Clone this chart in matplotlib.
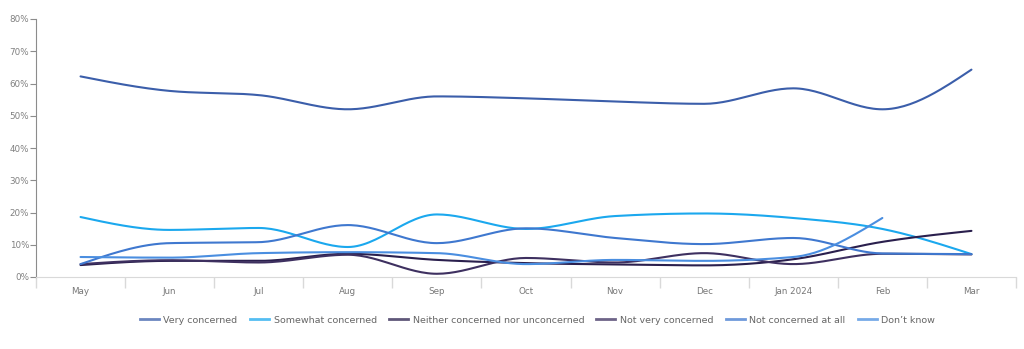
import numpy as np
import matplotlib.pyplot as plt
from matplotlib.lines import Line2D

months = ['May', 'Jun', 'Jul', 'Aug', 'Sep', 'Oct', 'Nov', 'Dec', 'Jan 2024', 'Feb', 'Mar']

very_concerned = [62.2, 57.7, 56.4, 52.0, 56.0, 55.4, 54.4, 53.7, 58.5, 52.0, 64.3]
somewhat_concerned = [18.6, 14.6, 15.2, 9.3, 19.4, 14.9, 18.9, 19.7, 18.3, 14.9, 7.1]
neither = [3.7, 5.0, 5.0, 7.2, 5.3, 4.3, 3.9, 3.6, 5.5, 10.9, 14.3]
not_very = [4.0, 5.2, 4.5, 6.9, 1.0, 5.9, 4.5, 7.4, 4.0, 7.2, 7.0]
not_at_all = [4.0, 10.5, 10.8, 16.1, 10.5, 15.1, 12.1, 10.2, 12.1, 7.3, 7.1]
dont_know = [6.2, 6.0, 7.4, 7.7, 7.4, 4.0, 5.3, 5.0, 6.2, 18.3]

series = [
    ('Very concerned', very_concerned, '#3b5eaa'),
    ('Somewhat concerned', somewhat_concerned, '#1ba8ee'),
    ('Neither concerned nor unconcerned', neither, '#2a1f4d'),
    ('Not very concerned', not_very, '#3e3060'),
    ('Not concerned at all', not_at_all, '#3f78cf'),
    ("Don\u2019t know", dont_know, '#4a8ee0'),
]


def monotone(x, y, n=30):
    # d3 curveMonotoneX style smoothing
    x = np.asarray(x, float)
    y = np.asarray(y, float)
    m = len(x)
    h = np.diff(x)
    s = np.diff(y) / h
    t = np.zeros(m)
    for i in range(1, m - 1):
        p = (s[i - 1] * h[i] + s[i] * h[i - 1]) / (h[i - 1] + h[i])
        t[i] = (np.sign(s[i - 1]) + np.sign(s[i])) * min(abs(s[i - 1]), abs(s[i]), 0.5 * abs(p))
    if m > 2:
        t[0] = (3 * s[0] - t[1]) / 2
        t[-1] = (3 * s[-1] - t[-2]) / 2
    else:
        t[:] = s[0]
    xs, ys = [], []
    u = np.linspace(0, 1, n)
    for i in range(m - 1):
        dx = h[i] / 3
        p0 = (x[i], y[i])
        p1 = (x[i] + dx, y[i] + dx * t[i])
        p2 = (x[i + 1] - dx, y[i + 1] - dx * t[i + 1])
        p3 = (x[i + 1], y[i + 1])
        b = [(1 - u) ** 3, 3 * (1 - u) ** 2 * u, 3 * (1 - u) * u ** 2, u ** 3]
        xs.append(b[0] * p0[0] + b[1] * p1[0] + b[2] * p2[0] + b[3] * p3[0])
        ys.append(b[0] * p0[1] + b[1] * p1[1] + b[2] * p2[1] + b[3] * p3[1])
    return np.concatenate(xs), np.concatenate(ys)


fig = plt.figure(figsize=(10.24, 3.49), dpi=100)
ax = fig.add_axes([36 / 1024, 1 - 277 / 349, 980 / 1024, 258 / 349])

for name, vals, col in series:
    xs, ys = monotone(range(len(vals)), vals)
    ax.plot(xs, ys, color=col, lw=1.5, solid_capstyle='round')

ax.set_xlim(-0.5, len(months) - 0.5)
ax.set_ylim(0, 80)
ax.set_yticks(range(0, 81, 10))
ax.set_yticklabels([f'{v}%' for v in range(0, 81, 10)])
ax.set_xticks(range(len(months)))
ax.set_xticklabels(months)
ax.set_xticks(np.arange(-0.5, len(months), 1), minor=True)

for sp in ['top', 'right']:
    ax.spines[sp].set_visible(False)
ax.spines['left'].set_color('#8c8c8c')
ax.spines['bottom'].set_color('#d9d9d9')
ax.tick_params(axis='y', colors='#8c8c8c', labelsize=6.3, length=4, width=0.8, pad=1)
ax.tick_params(axis='y', labelcolor='#808080')
ax.tick_params(axis='x', which='major', length=0, labelsize=6.3, labelcolor='#777777', pad=7)
ax.tick_params(axis='x', which='minor', length=8, color='#d9d9d9', width=1)

handles = [Line2D([0], [0], color=c, lw=2, alpha=0.75) for _, _, c in series]
labels = [n for n, _, _ in series]
fig.legend(handles, labels, loc='center', bbox_to_anchor=(0.525, 0.083), ncol=6,
           frameon=False, fontsize=6.8, handlelength=2, handletextpad=0.5,
           columnspacing=1.3, labelcolor='#666666')

fig.savefig('out.png', dpi=100)
